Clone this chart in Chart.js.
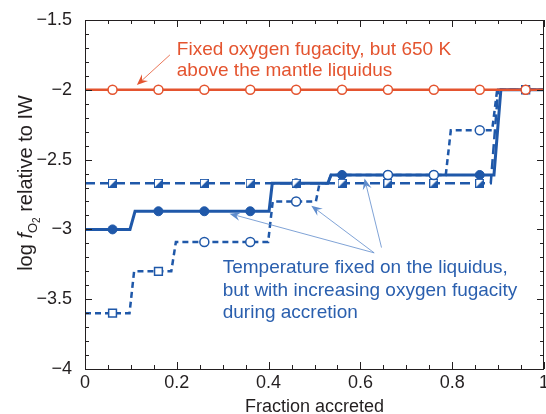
<!DOCTYPE html>
<html>
<head>
<meta charset="utf-8">
<script src="https://cdn.jsdelivr.net/npm/chart.js@4.4.1/dist/chart.umd.min.js"></script>
<style>
  body { margin: 0; background: #fff; }
  canvas { display: block; }
</style>
</head>
<body>
<canvas id="chart" width="546" height="414"></canvas>
<script>
// marker positions along accretion
const markerX = [0.06, 0.16, 0.26, 0.36, 0.46, 0.56, 0.66, 0.76, 0.86, 0.96];
const fixedMarkers = [-2, -2, -2, -2, -2, -2, -2, -2, -2, -2];
const solidMarkers = [-3, -2.87, -2.87, -2.87, -2.67, -2.61, -2.61, -2.61, -2.61, -2];
const longMarkers = [-2.67, -2.67, -2.67, -2.67, -2.67, -2.67, -2.67, -2.67, -2.67, -2];
const shortMarkers = [-3.6, -3.3, -3.09, -3.09, -2.8, -2.61, -2.61, -2.61, -2.29, -2];

// step line vertices
const fixedLineX = [0, 1];
const fixedLineY = [-2, -2];
const solidLineX = [0, 0.098, 0.109, 0.401, 0.408, 0.529, 0.536, 0.891, 0.906, 1];
const solidLineY = [-3, -3, -2.87, -2.87, -2.67, -2.67, -2.61, -2.61, -2, -2];
const longLineX = [0, 0.884, 0.9, 1];
const longLineY = [-2.67, -2.67, -2, -2];
const shortLineX = [0, 0.097, 0.107, 0.188, 0.198, 0.399, 0.409, 0.503, 0.511, 0.529, 0.536, 0.786, 0.797, 0.887, 0.898, 1];
const shortLineY = [-3.6, -3.6, -3.3, -3.3, -3.09, -3.09, -2.8, -2.8, -2.67, -2.67, -2.61, -2.61, -2.29, -2.29, -2, -2];

const xTicks = [0, 0.2, 0.4, 0.6, 0.8, 1];
const yTicks = [-4, -3.5, -3, -2.5, -2, -1.5];

const RED = '#e4542f';
const BLUE = '#1f58a9';
const AXIS = '#231f20';
const FONT = '"Liberation Sans", Arial, sans-serif';

function zip(xs, ys) {
    return xs.map((x, i) => ({ x: x, y: ys[i] }));
}

function minus(v) {
    let s = String(Math.round(Math.abs(v) * 10) / 10);
    return v < 0 ? '\u2212' + s : s;
}

// half filled square marker
function halfSquare() {
    let c = document.createElement('canvas');
    c.width = 9; c.height = 9;
    let g = c.getContext('2d');
    g.fillStyle = '#fff';
    g.fillRect(0, 0, 9, 9);
    g.fillStyle = BLUE;
    g.beginPath();
    g.moveTo(0.5, 8.5); g.lineTo(8.5, 8.5); g.lineTo(8.5, 0.5);
    g.closePath();
    g.fill();
    g.strokeStyle = BLUE;
    g.lineWidth = 1;
    g.strokeRect(0.5, 0.5, 8, 8);
    return c;
}

const frameAndText = {
    id: 'frameAndText',
    afterDatasetsDraw(chart) {
        const ctx = chart.ctx;
        const xs = chart.scales.x, ys = chart.scales.y;
        const a = chart.chartArea;
        const px = v => xs.getPixelForValue(v);
        const py = v => ys.getPixelForValue(v);
        ctx.save();

        // frame
        ctx.strokeStyle = AXIS;
        ctx.lineWidth = 1;
        ctx.strokeRect(a.left + 0.5, a.top + 0.5, a.right - a.left - 1, a.bottom - a.top);

        // inside ticks on all sides
        ctx.beginPath();
        for (let i = 0; i <= 20; i++) {
            let x = Math.round(px(i * 0.05)) + 0.5;
            let len = i % 4 === 0 ? 7 : 4;
            ctx.moveTo(x, a.bottom); ctx.lineTo(x, a.bottom - len);
            ctx.moveTo(x, a.top); ctx.lineTo(x, a.top + len);
        }
        for (let i = 0; i <= 25; i++) {
            let y = Math.round(py(-4 + i * 0.1)) + 0.5;
            let len = i % 5 === 0 ? 7 : 4;
            ctx.moveTo(a.left, y); ctx.lineTo(a.left + len, y);
            ctx.moveTo(a.right, y); ctx.lineTo(a.right - len, y);
        }
        ctx.stroke();

        // x tick labels
        ctx.fillStyle = AXIS;
        ctx.textBaseline = 'alphabetic';
        ctx.textAlign = 'center';
        ctx.font = '18px ' + FONT;
        xTicks.forEach(v => ctx.fillText(minus(v), px(v), 388));

        // axis titles
        ctx.fillText('Fraction accreted', (a.left + a.right) / 2, 412);

        ctx.save();
        ctx.translate(32, 183);
        ctx.rotate(-Math.PI / 2);
        ctx.textAlign = 'left';
        const parts = [
            ['log ', '20px ' + FONT, 0],
            ['f', 'italic 20px ' + FONT, 0],
            ['O', '13px ' + FONT, 5],
            ['2', '10px ' + FONT, 8],
            [' relative to IW', '20px ' + FONT, 0]
        ];
        let total = 0;
        parts.forEach(p => { ctx.font = p[1]; total += ctx.measureText(p[0]).width; });
        let cx = -total / 2;
        parts.forEach(p => {
            ctx.font = p[1];
            ctx.fillText(p[0], cx, p[2]);
            cx += ctx.measureText(p[0]).width;
        });
        ctx.restore();

        // annotations
        const arrow = (x1, y1, x2, y2, color) => {
            let sx = px(x1), sy = py(y1), ex = px(x2), ey = py(y2);
            let ang = Math.atan2(ey - sy, ex - sx);
            ctx.strokeStyle = color;
            ctx.fillStyle = color;
            ctx.lineWidth = 0.8;
            ctx.beginPath();
            ctx.moveTo(sx, sy);
            ctx.lineTo(ex - 6 * Math.cos(ang), ey - 6 * Math.sin(ang));
            ctx.stroke();
            ctx.save();
            ctx.translate(ex, ey);
            ctx.rotate(ang);
            ctx.beginPath();
            ctx.moveTo(0, 0);
            ctx.lineTo(-11, -4.5);
            ctx.lineTo(-7, 0);
            ctx.lineTo(-11, 4.5);
            ctx.closePath();
            ctx.fill();
            ctx.restore();
        };
        arrow(0.185, -1.75, 0.113, -1.966, RED);
        arrow(0.630, -3.168, 0.315, -2.887, '#5f8ccc');
        arrow(0.630, -3.168, 0.493, -2.83, '#5f8ccc');
        arrow(0.646, -3.13, 0.609, -2.635, '#5f8ccc');

        ctx.font = '19px ' + FONT;
        ctx.textAlign = 'left';
        ctx.fillStyle = RED;
        ctx.fillText('Fixed oxygen fugacity, but 650 K', px(0.2), py(-1.75));
        ctx.fillText('above the mantle liquidus', px(0.2), py(-1.899));

        ctx.fillStyle = '#2a5fae';
        ctx.fillText('Temperature fixed on the liquidus,', px(0.3), py(-3.309));
        ctx.fillText('but with increasing oxygen fugacity', px(0.3), py(-3.477));
        ctx.fillText('during accretion', px(0.3), py(-3.633));

        ctx.restore();
    }
};

const half = halfSquare();

new Chart(document.getElementById('chart'), {
    type: 'scatter',
    data: {
        datasets: [
            {
                data: zip(markerX, fixedMarkers),
                pointStyle: 'circle', pointRadius: 4.5,
                pointBackgroundColor: '#fff', pointBorderColor: RED, pointBorderWidth: 1.5
            },
            {
                data: zip(markerX, shortMarkers),
                pointStyle: ctx => [0, 1, 9].includes(ctx.dataIndex) ? 'rect' : 'circle',
                pointRadius: ctx => ctx.dataIndex === 5 ? 0 : ([0, 1, 9].includes(ctx.dataIndex) ? 5.5 : 4.5),
                pointBackgroundColor: '#fff', pointBorderColor: BLUE, pointBorderWidth: 1.5
            },
            {
                data: zip(markerX, longMarkers),
                pointStyle: half, pointRadius: 5
            },
            {
                data: zip(markerX, solidMarkers),
                pointStyle: 'circle', pointRadius: 4.5,
                pointBackgroundColor: BLUE, pointBorderColor: BLUE, pointBorderWidth: 1
            },
            {
                data: zip(fixedLineX, fixedLineY),
                showLine: true, pointRadius: 0, borderColor: RED, borderWidth: 2.4
            },
            {
                data: zip(shortLineX, shortLineY),
                showLine: true, pointRadius: 0, borderColor: BLUE, borderWidth: 2.5,
                borderDash: [6, 4]
            },
            {
                data: zip(longLineX, longLineY),
                showLine: true, pointRadius: 0, borderColor: BLUE, borderWidth: 2.5,
                borderDash: [10, 5]
            },
            {
                data: zip(solidLineX, solidLineY),
                showLine: true, pointRadius: 0, borderColor: BLUE, borderWidth: 3
            }
        ]
    },
    options: {
        responsive: false,
        animation: false,
        layout: { autoPadding: false, padding: { top: 20, right: 2, left: 0, bottom: 0 } },
        plugins: { legend: { display: false }, tooltip: { enabled: false } },
        scales: {
            x: {
                type: 'linear', min: 0, max: 1,
                grid: { display: false }, border: { display: false },
                ticks: { display: false },
                afterFit: s => { s.height = 45; s.paddingLeft = 0; s.paddingRight = 0; }
            },
            y: {
                type: 'linear', min: -4, max: -1.5,
                grid: { display: false }, border: { display: false },
                afterBuildTicks: s => { s.ticks = yTicks.map(v => ({ value: v })); },
                ticks: {
                    color: AXIS, padding: 5,
                    font: { size: 18, family: FONT },
                    callback: v => minus(v)
                },
                afterFit: s => { s.width = 85; s.paddingTop = 0; s.paddingBottom = 0; }
            }
        }
    },
    plugins: [frameAndText]
});
</script>
</body>
</html>
